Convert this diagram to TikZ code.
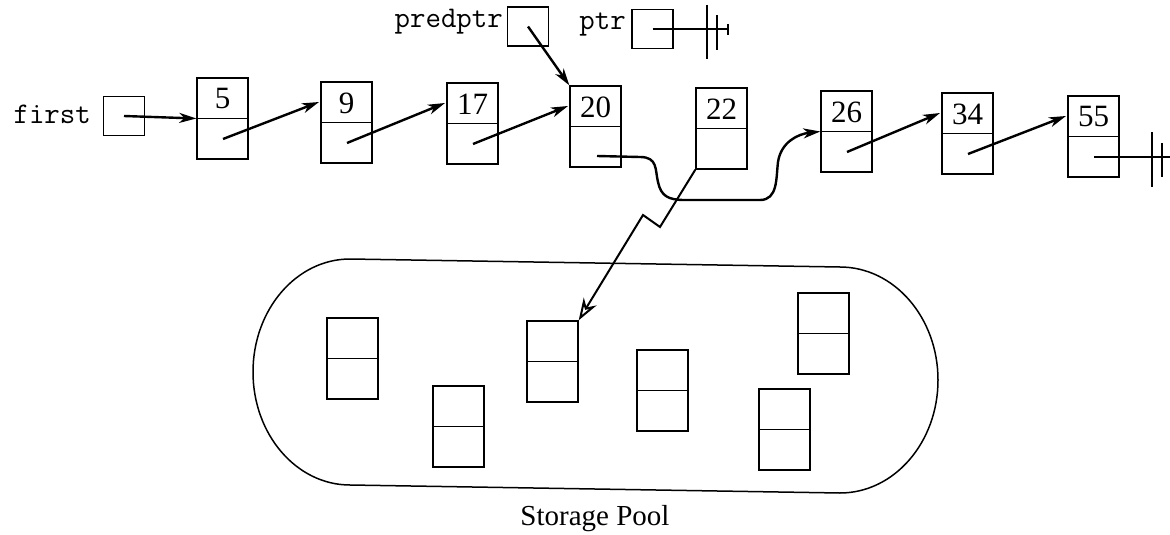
\documentclass[tikz,border=0pt]{standalone}
\usepackage{fontspec}
\setmainfont{Liberation Serif}
\usetikzlibrary{arrows.meta,calc}
\tikzset{
 cellbox/.style={draw, line width=1.4pt, minimum width=51pt, minimum height=81pt, inner sep=0pt},
 ptrbox/.style={draw, line width=1.4pt, minimum width=41pt, minimum height=39pt, inner sep=0pt},
 numtxt/.style={font=\fontsize{31}{33}\selectfont, inner sep=0pt},
 lbl/.style={font=\ttfamily\fontsize{30}{32}\selectfont, inner sep=0pt, anchor=east},
 link/.style={line width=2.4pt, -{Stealth[length=17pt,width=10pt,inset=5pt]}},
 freelink/.style={line width=2pt, -{Stealth[open,length=22pt,width=15pt,inset=7pt]}},
 nilline/.style={line width=1.4pt},
 poolline/.style={line width=1.5pt},
}
\newcommand\mycell[4]{%
 \node[cellbox] (#1) at ({#2+25.5},{-#3-40.5}) {};
 \draw[line width=1.4pt] (#1.west) -- (#1.east);
 \coordinate (#1-b) at ({#2+26},{-#3-61});
 \coordinate (#1-t) at ({#2-2},{-#3-20});
 \node[numtxt] at ({#2+25.5},{-#3-21}) {#4};
}
\begin{document}
\begin{tikzpicture}[x=1pt,y=1pt]
\useasboundingbox[fill=white] (0,0) rectangle (1170,-535);

% pointer variables
\node[ptrbox] (first) at (124,-116) {};
\node[lbl] (firstlbl) at (91,-114) {first};
\node[ptrbox] (pred) at (528,-26.5) {};
\node[lbl] (predlbl) at (503,-22) {predptr};
\node[ptrbox] (ptr) at (652.5,-29) {};
\node[lbl] (ptrlbl) at (626,-25) {ptr};

% list cells
\mycell{n5}{197}{78}{5}
\mycell{n9}{321}{82}{9}
\mycell{n17}{447}{83}{17}
\mycell{n20}{570}{86}{20}
\mycell{n22}{696}{88}{22}
\mycell{n26}{821}{91}{26}
\mycell{n34}{942}{93}{34}
\mycell{n55}{1068}{96}{55}

% links
\draw[link] (first.center) -- (n5.west);
\draw[link] (n5-b) -- (n9-t);
\draw[link] (n9-b) -- (n17-t);
\draw[link] (n17-b) -- (n20-t);
\draw[link] (n26-b) -- (n34-t);
\draw[link] (n34-b) -- (n55-t);
\draw[link] (pred.center) -- (n20.north west);

% bypass link 20 -> 26
\coordinate (s20) at (597,-156);
\draw[link] (s20) -- (640,-157) .. controls (658,-157) and (655,-170) .. (658,-182)
  .. controls (661,-196) and (668,-200) .. (685,-200) -- (760,-200)
  .. controls (778,-200) and (776,-178) .. (778,-162)
  .. controls (781,-142) and (798,-134) .. (n26.west);

% null pointers
\coordinate (ptrend) at (728,-29);
\draw[nilline] (ptr.center) -- (ptrend);
\draw[nilline] (707,-5) -- (707,-59);
\draw[nilline] (717,-15) -- (717,-50);
\draw[nilline] (728,-24) -- (728,-35);
\coordinate (n55end) at (1170,-157);
\draw[nilline] (n55-b) -- (n55end);
\draw[nilline] (1152,-132) -- (1152,-187);
\draw[nilline] (1162,-143) -- (1162,-177);

% storage pool
\draw[poolline] (350,-259) -- (840,-267) arc[start angle=90, end angle=-90, x radius=98, y radius=113]
  -- (350,-485) arc[start angle=-90, end angle=-270, x radius=97, y radius=113] -- cycle;
\mycell{p1}{327}{318}{}
\mycell{p2}{433}{386}{}
\mycell{p3}{527}{321}{}
\mycell{p4}{637}{350}{}
\mycell{p5}{759}{389}{}
\mycell{p6}{798}{293}{}
\node[font=\fontsize{29}{32}\selectfont, anchor=base] (pool) at (595,-525) {Storage Pool};

% freed node returned to pool
\draw[freelink] (n22.south west) -- (660,-227) -- (643,-215) -- (p3.north east);
\end{tikzpicture}
\end{document}
